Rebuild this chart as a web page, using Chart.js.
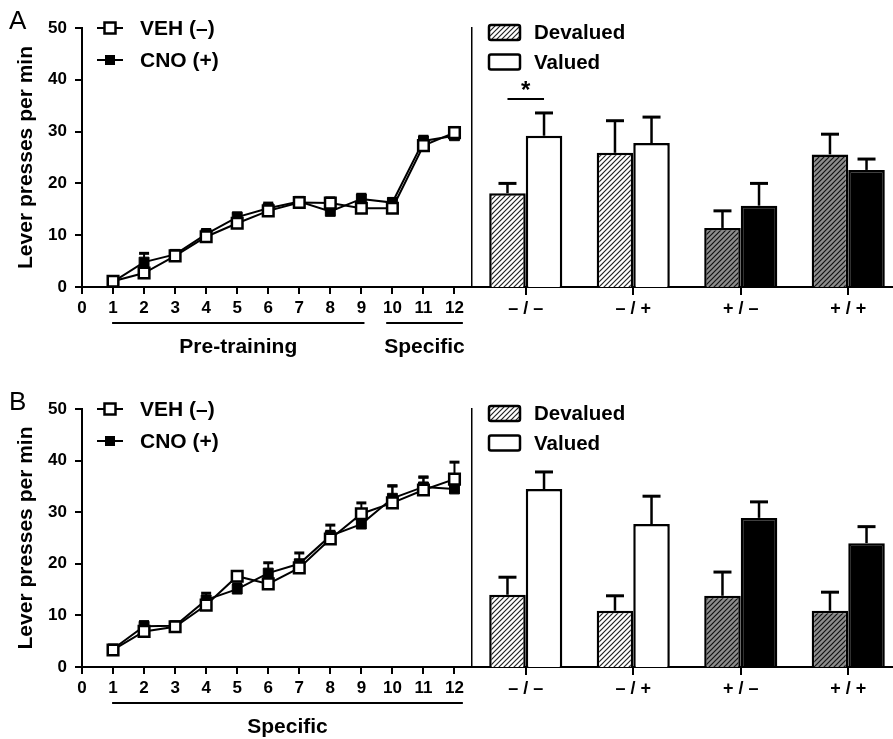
<!DOCTYPE html>
<html>
<head>
<meta charset="utf-8">
<script src="https://cdn.jsdelivr.net/npm/chart.js@4.4.1/dist/chart.umd.min.js"></script>
<style>
  html, body { margin: 0; background: #fff; overflow: hidden; }
  body { width: 893px; height: 739px; position: relative; }
  .box { position: absolute; }
</style>
</head>
<body>
<div class="box" style="left:0;top:0;width:472px;height:370px"><canvas id="lineA"></canvas></div>
<div class="box" style="left:471px;top:0;width:431px;height:370px"><canvas id="barA"></canvas></div>
<div class="box" style="left:0;top:380px;width:472px;height:359px"><canvas id="lineB"></canvas></div>
<div class="box" style="left:471px;top:380px;width:431px;height:359px"><canvas id="barB"></canvas></div>
<script>
// sessions + series (lever presses per min)
const sessions = [1, 2, 3, 4, 5, 6, 7, 8, 9, 10, 11, 12];
const xTicks = [0, 1, 2, 3, 4, 5, 6, 7, 8, 9, 10, 11, 12];
const vehA = [1.1, 2.7, 6.0, 9.7, 12.3, 14.7, 16.3, 16.2, 15.2, 15.2, 27.3, 29.8];
const vehSemA = [0.5, 0.8, 0.7, 0.9, 0.9, 1.0, 0.8, 1.0, 0.9, 0.8, 1.0, 1.0];
const cnoA = [1.0, 4.8, 6.3, 10.2, 13.5, 15.2, 16.5, 14.6, 17.0, 16.3, 28.2, 29.2];
const cnoSemA = [0.4, 1.7, 0.7, 0.9, 0.8, 1.0, 0.8, 0.8, 0.9, 0.8, 0.9, 0.9];
const vehB = [3.3, 6.9, 7.8, 12.0, 17.6, 16.1, 19.2, 24.8, 29.7, 31.8, 34.3, 36.4];
const vehSemB = [0.6, 0.8, 0.7, 1.0, 0.9, 1.2, 1.5, 1.5, 2.1, 3.3, 2.5, 3.3];
const cnoB = [3.5, 7.9, 8.0, 13.0, 15.1, 18.2, 20.0, 25.4, 27.7, 32.7, 34.9, 34.5];
const cnoSemB = [0.5, 0.9, 0.6, 1.3, 1.0, 2.0, 2.1, 2.1, 1.5, 2.4, 1.9, 1.5];

// test groups (VEH/CNO during training / test)
const groups = ['– / –', '– / +', '+ / –', '+ / +'];
const devA = [18.1, 25.9, 11.4, 25.6];
const devSemA = [1.9, 6.2, 3.3, 3.9];
const valA = [29.2, 27.8, 15.7, 22.6];
const valSemA = [4.4, 5.0, 4.3, 2.1];
const devB = [14.0, 10.9, 13.8, 10.9];
const devSemB = [3.4, 2.9, 4.6, 3.6];
const valB = [34.5, 27.7, 28.9, 24.0];
const valSemB = [3.3, 5.4, 3.1, 3.2];
const yMin = 0, yMax = 50, yStep = 10;

const FONT = '"Liberation Sans", Arial, sans-serif';
Chart.defaults.font.family = FONT;
Chart.defaults.font.weight = 'bold';
Chart.defaults.color = '#000';

function hatch(bg, fg) {
    const c = document.createElement('canvas');
    c.width = 5; c.height = 5;
    const g = c.getContext('2d');
    g.fillStyle = bg; g.fillRect(0, 0, 5, 5);
    g.strokeStyle = fg; g.lineWidth = 1.2;
    g.beginPath();
    g.moveTo(0, 5); g.lineTo(5, 0);
    g.moveTo(-1, 1); g.lineTo(1, -1);
    g.moveTo(4, 6); g.lineTo(6, 4);
    g.stroke();
    return g.createPattern(c, 'repeat');
}
const hatchWhite = hatch('#fff', '#222');
const hatchGrey = hatch('#8c8c8c', '#111');

function errBars(sems, layer, cap, stem) {
    const draw = chart => {
        const ctx = chart.ctx, ys = chart.scales.y;
        ctx.save();
        ctx.strokeStyle = '#000';
        sems.forEach((sem, di) => {
            chart.getDatasetMeta(di).data.forEach((el, i) => {
                const v = chart.data.datasets[di].data[i];
                const val = typeof v === 'object' ? v.y : v;
                const top = ys.getPixelForValue(val + sem[i]);
                ctx.lineWidth = stem;
                ctx.beginPath(); ctx.moveTo(el.x, el.y); ctx.lineTo(el.x, top); ctx.stroke();
                ctx.lineWidth = 3;
                ctx.beginPath(); ctx.moveTo(el.x - cap / 2, top); ctx.lineTo(el.x + cap / 2, top); ctx.stroke();
            });
        });
        ctx.restore();
    };
    return layer === 'before' ? { id: 'errBefore', beforeDatasetsDraw: draw } : { id: 'errAfter', afterDatasetsDraw: draw };
}

function lineDecor(letter, spans) {
    return {
        id: 'lineDecor',
        afterDraw(chart) {
            const ctx = chart.ctx, a = chart.chartArea, xs = chart.scales.x;
            ctx.save();
            // panel letter
            ctx.font = 'normal 26px ' + FONT;
            ctx.textBaseline = 'alphabetic'; ctx.textAlign = 'left';
            ctx.fillText(letter, 9, a.top + 1);
            // legend
            ctx.font = 'bold 21px ' + FONT;
            ctx.textBaseline = 'middle';
            chart.data.datasets.forEach((ds, i) => {
                const y = a.top + i * 32, mx = a.left + 28;
                ctx.strokeStyle = '#000'; ctx.lineWidth = 2;
                ctx.beginPath(); ctx.moveTo(a.left + 15, y); ctx.lineTo(a.left + 41, y); ctx.stroke();
                if (i === 0) {
                    ctx.fillStyle = '#fff'; ctx.fillRect(mx - 5.5, y - 5.5, 11, 11);
                    ctx.lineWidth = 2.5; ctx.strokeRect(mx - 5.5, y - 5.5, 11, 11);
                } else {
                    ctx.fillStyle = '#000'; ctx.fillRect(mx - 5, y - 5, 10, 10);
                }
                ctx.fillStyle = '#000';
                ctx.fillText(ds.label, a.left + 58, y + 1);
            });
            // session group underlines
            ctx.font = 'bold 21px ' + FONT;
            ctx.textAlign = 'center';
            spans.forEach(s => {
                const x0 = xs.getPixelForValue(s.from), x1 = xs.getPixelForValue(s.to);
                ctx.lineWidth = 2;
                ctx.beginPath(); ctx.moveTo(x0, a.bottom + 36); ctx.lineTo(x1, a.bottom + 36); ctx.stroke();
                ctx.fillText(s.label, (x0 + x1) / 2, a.bottom + 60);
            });
            ctx.restore();
        }
    };
}

function barDecor(sig) {
    return {
        id: 'barDecor',
        afterDraw(chart) {
            const ctx = chart.ctx, a = chart.chartArea;
            ctx.save();
            ctx.font = 'bold 20.5px ' + FONT;
            ctx.textBaseline = 'middle'; ctx.textAlign = 'left';
            const fills = [hatchWhite, '#fff'];
            chart.data.datasets.forEach((ds, i) => {
                const cy = a.top + 4.5 + i * 29.5;
                ctx.fillStyle = fills[i];
                ctx.strokeStyle = '#000'; ctx.lineWidth = 2.5;
                ctx.beginPath(); ctx.roundRect(a.left + 17, cy - 7.5, 31, 15, 2); ctx.fill(); ctx.stroke();
                ctx.fillStyle = '#000';
                ctx.fillText(ds.label, a.left + 62, cy + 1);
            });
            if (sig) {
                const x0 = chart.getDatasetMeta(0).data[sig.index].x;
                const x1 = chart.getDatasetMeta(1).data[sig.index].x;
                const y = chart.scales.y.getPixelForValue(sig.value);
                ctx.lineWidth = 2;
                ctx.beginPath(); ctx.moveTo(x0, y); ctx.lineTo(x1, y); ctx.stroke();
                ctx.font = 'bold 24px ' + FONT;
                ctx.textAlign = 'center'; ctx.textBaseline = 'alphabetic';
                ctx.fillText('*', (x0 + x1) / 2, y - 1);
            }
            ctx.restore();
        }
    };
}

const axisGrid = { drawOnChartArea: false, color: '#000', lineWidth: 2, tickLength: 7 };
const axisBorder = { color: '#000', width: 2 };
const noSidePad = s => { s.paddingLeft = 0; s.paddingRight = 0; };

function makeLine(id, veh, vehSem, cno, cnoSem, top, bottomH, letter, spans) {
    new Chart(document.getElementById(id), {
        type: 'line',
        data: {
            datasets: [
                { label: 'VEH (–)', data: sessions.map((s, i) => ({ x: s, y: veh[i] })),
                  borderColor: '#000', borderWidth: 2, pointStyle: 'rect', pointRadius: 7.5,
                  pointBackgroundColor: '#fff', pointBorderColor: '#000', pointBorderWidth: 2.5, tension: 0 },
                { label: 'CNO (+)', data: sessions.map((s, i) => ({ x: s, y: cno[i] })),
                  borderColor: '#000', borderWidth: 2, pointStyle: 'rect', pointRadius: 7,
                  pointBackgroundColor: '#000', pointBorderColor: '#000', pointBorderWidth: 1, tension: 0 }
            ]
        },
        options: {
            responsive: true, maintainAspectRatio: false, animation: false, events: [],
            layout: { autoPadding: false, padding: { top: top, right: 2, left: 0, bottom: 0 } },
            plugins: { legend: { display: false }, tooltip: { enabled: false } },
            scales: {
                x: {
                    type: 'linear', min: 0, max: 12.5,
                    afterFit: s => { s.height = bottomH; noSidePad(s); },
                    afterBuildTicks: s => { s.ticks = xTicks.map(v => ({ value: v })); },
                    ticks: { stepSize: 1, autoSkip: false, maxRotation: 0, padding: 4, font: { size: 17 } },
                    grid: axisGrid, border: axisBorder
                },
                y: {
                    min: yMin, max: yMax,
                    afterFit: s => { s.width = 82; },
                    ticks: { stepSize: yStep, padding: 8, font: { size: 17 } },
                    grid: axisGrid, border: axisBorder,
                    title: { display: true, text: 'Lever presses per min', font: { size: 21, weight: 'bold' }, padding: { top: 14, bottom: 0 } }
                }
            }
        },
        plugins: [errBars([vehSem, cnoSem], 'before', 10, 2), lineDecor(letter, spans)]
    });
}

function makeBar(id, dev, devSem, val, valSem, top, bottomH, sig) {
    new Chart(document.getElementById(id), {
        type: 'bar',
        data: {
            labels: groups,
            datasets: [
                { label: 'Devalued', data: dev, backgroundColor: [hatchWhite, hatchWhite, hatchGrey, hatchGrey],
                  borderColor: '#000', borderWidth: 2.5, categoryPercentage: 0.68, barPercentage: 1 },
                { label: 'Valued', data: val, backgroundColor: ['#fff', '#fff', '#000', '#000'],
                  borderColor: '#000', borderWidth: 2.5, categoryPercentage: 0.68, barPercentage: 1 }
            ]
        },
        options: {
            responsive: true, maintainAspectRatio: false, animation: false, events: [],
            layout: { autoPadding: false, padding: { top: top, right: 0, left: 0, bottom: 0 } },
            plugins: { legend: { display: false }, tooltip: { enabled: false } },
            scales: {
                x: {
                    offset: true,
                    afterFit: s => { s.height = bottomH; noSidePad(s); },
                    ticks: { padding: 3, font: { size: 18 } },
                    grid: { offset: false, drawOnChartArea: false, color: '#000', lineWidth: 2, tickLength: 8 },
                    border: axisBorder
                },
                y: {
                    min: yMin, max: yMax,
                    afterFit: s => { s.width = 1; },
                    ticks: { display: false },
                    grid: { display: false },
                    border: { color: '#000', width: 1.5 }
                }
            }
        },
        plugins: [errBars([devSem, valSem], 'after', 18, 2.5), barDecor(sig)]
    });
}

makeLine('lineA', vehA, vehSemA, cnoA, cnoSemA, 28, 83, 'A',
    [{ from: 0.97, to: 9.1, label: 'Pre-training' }, { from: 9.8, to: 12.27, label: 'Specific' }]);
makeBar('barA', devA, devSemA, valA, valSemA, 28, 83, { index: 0, value: 36.3 });
makeLine('lineB', vehB, vehSemB, cnoB, cnoSemB, 29, 72, 'B',
    [{ from: 0.97, to: 12.27, label: 'Specific' }]);
makeBar('barB', devB, devSemB, valB, valSemB, 29, 72, null);
</script>
</body>
</html>
